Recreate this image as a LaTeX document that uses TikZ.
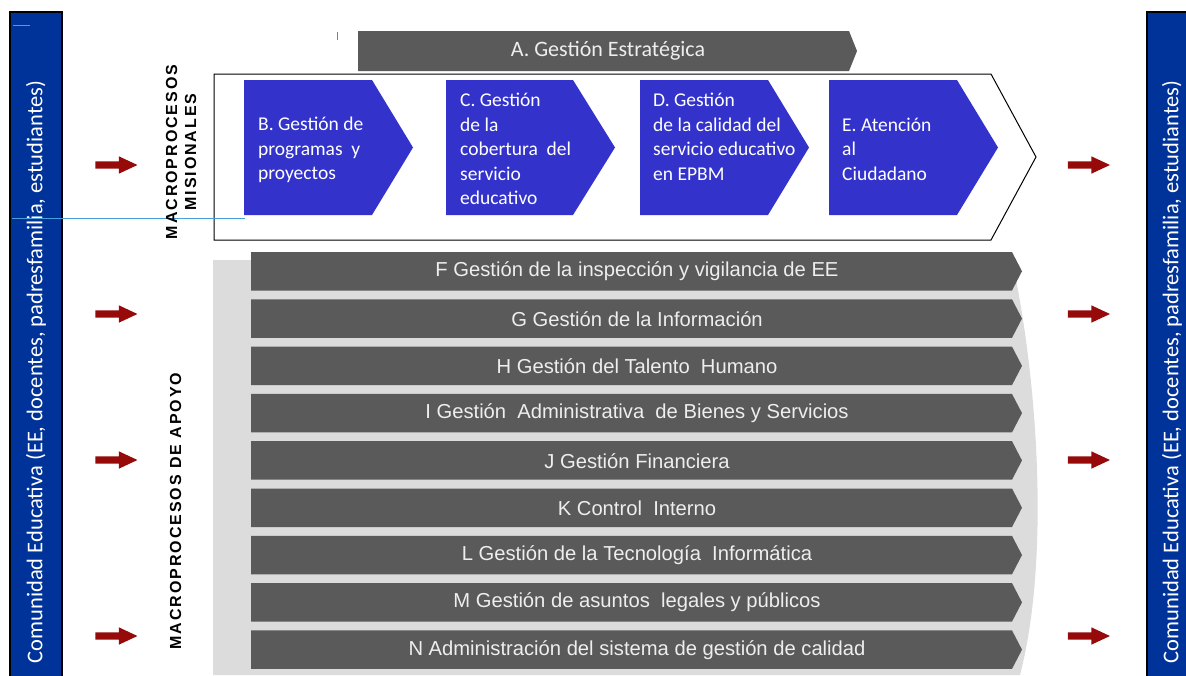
\documentclass[tikz,border=0pt]{standalone}
\usepackage{fontspec}
\setmainfont{Carlito}
\newfontfamily\arialf{Liberation Sans}
\newfontfamily\arialsp[LetterSpace=12]{Liberation Sans}
\usetikzlibrary{shapes.arrows}
\definecolor{cbarblue}{RGB}{0,51,153}
\definecolor{cchev}{RGB}{51,51,204}
\definecolor{cdgray}{RGB}{90,90,90}
\definecolor{clgray}{RGB}{220,220,220}
\definecolor{cred}{RGB}{150,10,10}
\definecolor{clblue}{RGB}{70,160,220}
\definecolor{ctext}{RGB}{238,238,238}
\begin{document}
\begin{tikzpicture}[x=1pt,y=-1pt,
  redarrow/.style={single arrow, fill=cred, draw=none, minimum height=42pt,
    minimum width=17pt, single arrow head extend=5pt, single arrow tip angle=50,
    single arrow head indent=0pt, inner xsep=0pt, inner ysep=3.5pt},
  sidebar/.style={fill=cbarblue, draw=black, line width=1.5pt},
  sidetxt/.style={rotate=90, text=white, font=\fontsize{22.5}{26}\selectfont},
  chev/.style={fill=cchev},
  chevtxt/.style={anchor=west, align=left, text=white, inner sep=0pt,
    font=\fontsize{19.5}{24.5}\selectfont},
  graybar/.style={fill=cdgray},
  graytxt/.style={text=ctext, inner sep=0pt, font=\arialf\fontsize{20.2}{24}\selectfont},
  macro/.style={rotate=90, align=center, font=\arialsp\bfseries\fontsize{16}{19}\selectfont}
]
\useasboundingbox (0,0) rectangle (1186,675);

% side bars
\path[sidebar] (10,12) rectangle (62,690);
\path[sidebar] (1147,12) rectangle (1200,690);
\draw[clblue, line width=1pt] (13,25) -- (30,25);
\node[sidetxt] (ceL) at (36,372) {Comunidad Educativa (EE, docentes, padresfamilia, estudiantes)};
\node[sidetxt] (ceR) at (1172,372) {Comunidad Educativa (EE, docentes, padresfamilia, estudiantes)};

% red arrows
\foreach \y [count=\k] in {165,314,460,636}{
  \node[redarrow] (la\k) at (112.5,\y) {};
  \node[redarrow] (ra\k) at (1085,\y) {};
}

% strategic bar
\draw[gray, line width=0.8pt] (337,32) -- (337,40);
\path[graybar] (358,31) -- (849,31) -- (857,51) -- (849,71) -- (358,71) -- cycle;
\node[text=ctext, font=\fontsize{22}{24}\selectfont] (A) at (608,51) {A. Gestión Estratégica};

% missional outline
\draw[black, line width=1pt, fill=white] (214,74) -- (991,74) -- (1036,157) -- (991,240) -- (214,240) -- cycle;
\draw[clblue, line width=1.2pt] (12,218.5) -- (245,218.5);

% blue chevrons
\path[chev] (244,80) -- (372,80) -- (413,147.5) -- (372,215) -- (244,215) -- cycle;
\path[chev] (446,80) -- (573,80) -- (615,147.5) -- (573,215) -- (446,215) -- cycle;
\path[chev] (640,80) -- (768,80) -- (809,147.5) -- (768,215) -- (640,215) -- cycle;
\path[chev] (829,80) -- (957,80) -- (998,147.5) -- (957,215) -- (829,215) -- cycle;
\node[chevtxt] (B) at (258,150) {B. Gestión de\\programas \ y\\proyectos};
\node[chevtxt] (C) at (460,149) {C. Gestión\\de la\\cobertura \ del\\servicio\\educativo};
\node[chevtxt] (D) at (653,137) {D. Gestión\\de la calidad del\\servicio educativo\\en EPBM};
\node[chevtxt] (E) at (842,149) {E. Atención\\al\\Ciudadano};

\node[macro] (mis) at (181,152) {MACROPROCESOS\\MISIONALES};
\node[macro] (apo) at (175.5,511) {MACROPROCESOS DE APOYO};

% support background
\path[fill=clgray] (213,260) -- (1012,260) .. controls (1038,380) and (1050,560) .. (1020,675) -- (213,675) -- cycle;

% support bars
\foreach \t [count=\i from 0] in {
  {F Gestión de la inspección y vigilancia de EE},
  {G Gestión de la Información},
  {H Gestión del Talento \ Humano},
  {I Gestión \ Administrativa \ de Bienes y Servicios},
  {J Gestión Financiera},
  {K Control \ Interno},
  {L Gestión de la Tecnología \ Informática},
  {M Gestión de asuntos \ legales y públicos},
  {N Administración del sistema de gestión de calidad}}{
  \pgfmathsetmacro{\ty}{252+47.3*\i}
  \path[graybar] (251,\ty) -- (1012,\ty) -- (1022,\ty+19.25) -- (1012,\ty+38.5) -- (251,\ty+38.5) -- cycle;
  \node[graytxt] (bar\i) at (637,\ty+19.5) {\t};
}
\end{tikzpicture}
\end{document}
